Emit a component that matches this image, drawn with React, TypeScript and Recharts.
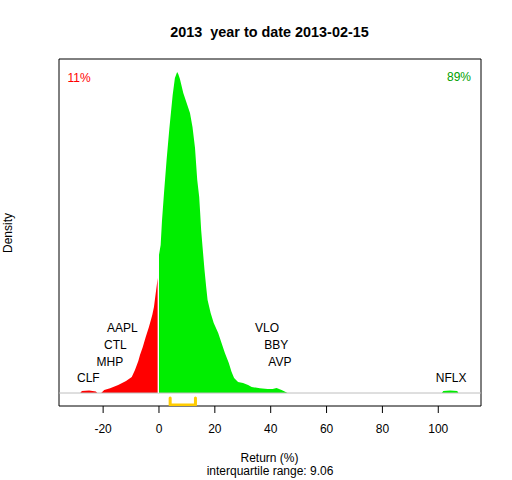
import React from 'react';
import {
  ComposedChart,
  Area,
  Line,
  XAxis,
  YAxis,
  ReferenceLine,
  ReferenceArea,
  ReferenceDot,
} from 'recharts';

// ---- data (density in arbitrary units) ----
const redX = [-28.2, -27.6, -25.0, -22.6, -22.1, -20.7, -19.6, -17.5, -14.6, -11.8, -9.75, -8.6, -7.4, -6.8, -5.8, -4.75, -3.6, -2.4, -1.8, -1.25, -0.55, -0.45];
const redY = [0, 2, 2.5, 1.5, 0, 0, 3, 4.7, 8, 12, 16, 23, 32, 38, 46, 56, 66, 78, 86, 98, 113, 115];

const greenX = [0, 0.6, 1.07, 1.8, 2.75, 3.7, 4.9, 5.7, 6.5, 6.9, 7.5, 8.7, 9.9, 11.1, 12.0, 12.9, 13.7, 14.4, 14.75, 15.1, 15.6, 16.3, 16.9, 17.4, 18.5, 19.6, 21.2, 22.4, 23.6, 25.0, 26.0, 26.9, 28.3, 30.1, 31.9, 33.2, 36.1, 38.9, 40.7, 42.1, 43.9, 45.0, 46.0, 101.3, 101.8, 104.3, 106.8, 107.2];
const greenY = [138, 148, 172, 200, 234, 264, 298, 315, 321, 319, 314, 300, 290, 280, 266, 245, 213, 196, 180, 163, 146, 123, 106, 93, 80, 70, 60, 50, 40, 30, 21, 15, 11, 10, 8, 6, 4.7, 4, 4, 5, 3, 1.5, 0, 0, 2, 2.5, 2, 0];

const labelTickers = ['CLF', 'MHP', 'CTL', 'AAPL', 'VLO', 'BBY', 'AVP', 'NFLX'];
const labelReturns = [-25.3, -17.6, -15.6, -13.1, 38.7, 42.0, 43.3, 104.6];
const labelHeights = [15.7, 31.3, 48, 65.3, 65.3, 48, 31.3, 15.7];

const xTicks = [-20, 0, 20, 40, 60, 80, 100];
const q1 = 4.0;
const q3 = 13.06;
const iqrText = 'interquartile range: 9.06';
const pctNeg = '11%';
const pctPos = '89%';
const title = '2013  year to date 2013-02-15';

const X_DOMAIN: [number, number] = [-35.8, 115.3];
const Y_DOMAIN: [number, number] = [-13, 334];

const rows = [
  ...redX.map((x, i) => ({ x, red: redY[i] })),
  ...greenX.map((x, i) => ({ x, green: greenY[i] })),
].sort((a, b) => a.x - b.x);

const bracketRows = [
  { x: q1, y: -5 },
  { x: q1, y: -12 },
  { x: q3, y: -12 },
  { x: q3, y: -5 },
];

const FONT = '"Liberation Sans", Arial, sans-serif';

function Txt({ x, y, size = 12, bold = false, color = '#000', rotate = 0, children }: any) {
  return (
    <div
      style={{
        position: 'absolute',
        left: x,
        top: y,
        transform: `translate(-50%, -50%) rotate(${rotate}deg)`,
        fontFamily: FONT,
        fontSize: size,
        fontWeight: bold ? 'bold' : 'normal',
        color,
        lineHeight: 1,
        whiteSpace: 'pre',
      }}
    >
      {children}
    </div>
  );
}

export default function App() {
  return (
    <div style={{ position: 'absolute', left: 0, top: 0, width: 512, height: 480, background: '#fff' }}>
      <ComposedChart
        width={512}
        height={480}
        data={rows}
        margin={{ top: 59, left: 59, right: 31, bottom: 44 }}
        style={{ fontFamily: FONT }}
      >
        <XAxis
          type="number"
          dataKey="x"
          domain={X_DOMAIN}
          allowDataOverflow
          ticks={xTicks}
          interval={0}
          tickSize={7}
          tickMargin={11}
          axisLine={false}
          tickLine={{ stroke: '#000' }}
          tick={{ fill: '#000', fontSize: 12, fontFamily: FONT }}
          height={30}
        />
        <YAxis type="number" hide domain={Y_DOMAIN} allowDataOverflow />
        <ReferenceLine y={0} stroke="#BEBEBE" strokeWidth={1} />
        <Area
          type="linear"
          dataKey="red"
          stroke="none"
          fill="#FF0000"
          fillOpacity={1}
          baseValue={0}
          isAnimationActive={false}
          dot={false}
          activeDot={false}
        />
        <Area
          type="linear"
          dataKey="green"
          stroke="none"
          fill="#00EE00"
          fillOpacity={1}
          baseValue={0}
          isAnimationActive={false}
          dot={false}
          activeDot={false}
        />
        <ReferenceLine
          segment={[{ x: -0.22, y: 0 }, { x: -0.22, y: 140 }]}
          stroke="#FFFFFF"
          strokeWidth={1}
        />
        <Line
          data={bracketRows}
          dataKey="y"
          type="linear"
          stroke="#FFCC00"
          strokeWidth={3}
          strokeLinejoin="round"
          strokeLinecap="round"
          dot={false}
          activeDot={false}
          isAnimationActive={false}
        />
        {labelTickers.map((t, i) => (
          <ReferenceDot
            key={t}
            x={labelReturns[i]}
            y={labelHeights[i]}
            r={0}
            fill="none"
            stroke="none"
            label={{ value: t, position: 'center', fill: '#000', fontSize: 12, fontFamily: FONT }}
          />
        ))}
        <ReferenceArea
          x1={X_DOMAIN[0]}
          x2={X_DOMAIN[1]}
          y1={Y_DOMAIN[0]}
          y2={Y_DOMAIN[1]}
          fill="none"
          stroke="#000"
          strokeWidth={1}
          ifOverflow="visible"
        />
      </ComposedChart>
      <Txt x={269.5} y={31.7} size={14.4} bold>{title}</Txt>
      <Txt x={79} y={78} color="#FF0000">{pctNeg}</Txt>
      <Txt x={459} y={77} color="#00A000">{pctPos}</Txt>
      <Txt x={8.3} y={232.5} rotate={-90}>Density</Txt>
      <Txt x={269.5} y={457.5}>Return (%)</Txt>
      <Txt x={270} y={470.5}>{iqrText}</Txt>
    </div>
  );
}
